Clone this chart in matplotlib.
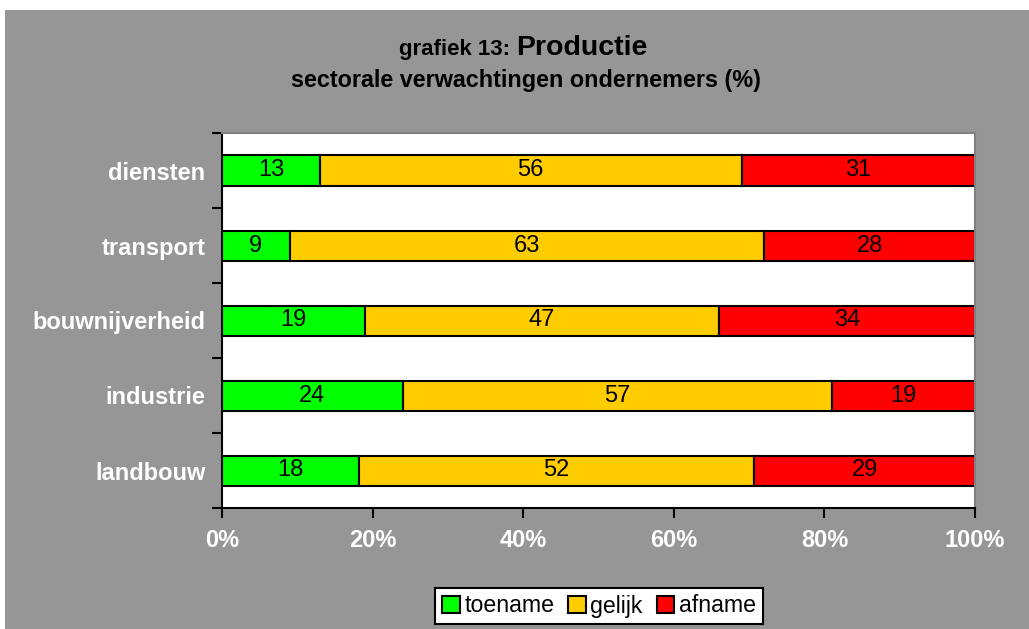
import matplotlib.pyplot as plt
import matplotlib.patches as mpatches
import numpy as np

# =========================
# DATA
# =========================
sectors = ["landbouw", "industrie", "bouwnijverheid", "transport", "diensten"]
toename = [18, 24, 19, 9, 13]
gelijk = [52, 57, 47, 63, 56]
afname = [29, 19, 34, 28, 31]
xtick_labels = ["0%", "20%", "40%", "60%", "80%", "100%"]

series = [("toename", toename, "#00ff00"),
          ("gelijk", gelijk, "#ffcc00"),
          ("afname", afname, "#ff0000")]

plt.rcParams['font.family'] = ['Liberation Sans', 'DejaVu Sans']

W, H = 1029, 629
fig = plt.figure(figsize=(W / 100, H / 100), dpi=100, facecolor="white")

# gray chart background (white strip at top and left)
bg = mpatches.Rectangle((5 / W, 0), 1 - 5 / W, 1 - 10 / H, transform=fig.transFigure,
                        facecolor="#969696", edgecolor="none", zorder=-10)
fig.patches.append(bg)

ax = fig.add_axes([222 / W, 1 - 508 / H, (975 - 222) / W, (508 - 133) / H])
ax.set_facecolor("white")

totals = np.array(toename) + np.array(gelijk) + np.array(afname)
y = np.arange(len(sectors))
left = np.zeros(len(sectors))
handles = []
for name, vals, color in series:
    vals = np.array(vals)
    share = vals / totals * 100
    bars = ax.barh(y, share, left=left, height=0.4, color=color,
                   edgecolor="black", linewidth=1.5, label=name)
    for yi, l, s, v in zip(y, left, share, vals):
        ax.text(l + s / 2, yi, str(v), ha="center", va="center",
                fontsize=17, color="black")
    left += share
    handles.append(bars)

ax.set_xlim(0, 100)
ax.set_ylim(-0.5, len(sectors) - 0.5)

# x axis
ax.set_xticks(np.arange(0, 101, 20))
ax.set_xticklabels(xtick_labels, color="white", fontsize=17, fontweight="bold")
ax.tick_params(axis="x", direction="out", length=7, width=1.5, pad=8, color="black")

# y axis: tick marks between categories, labels at centers
ax.set_yticks(np.arange(-0.5, len(sectors)), minor=False)
ax.set_yticklabels([])
ax.set_yticks(y, minor=True)
ax.set_yticklabels(sectors, minor=True, color="white", fontsize=17, fontweight="bold")
ax.tick_params(axis="y", which="major", direction="out", length=7, width=1.5, color="black")
ax.tick_params(axis="y", which="minor", length=0, pad=12)

for side in ["left", "bottom"]:
    ax.spines[side].set_color("black")
    ax.spines[side].set_linewidth(1.5)
for side in ["top", "right"]:
    ax.spines[side].set_color("#808080")
    ax.spines[side].set_linewidth(1.5)

# =========================
# TITLE
# =========================
split_x = 516 / W
title_y = 1 - 55 / H
fig.text(split_x, title_y, "grafiek 13: ", ha="right", va="baseline",
         fontsize=16, fontweight="bold")
fig.text(split_x, title_y, "Productie", ha="left", va="baseline",
         fontsize=20.5, fontweight="bold")
fig.text(526 / W, 1 - 80 / H, "sectorale verwachtingen ondernemers (%)",
         ha="center", va="center", fontsize=16.8, fontweight="bold")

# =========================
# LEGEND
# =========================
leg = fig.legend(handles=handles, loc="center", bbox_to_anchor=(599 / W, 1 - 606 / H),
                 ncol=3, fontsize=16.7, frameon=True, fancybox=False,
                 handlelength=0.75, handleheight=0.75, handletextpad=0.2,
                 columnspacing=0.6, borderpad=0.3)
leg.get_frame().set_edgecolor("black")
leg.get_frame().set_linewidth(1.5)
leg.get_frame().set_facecolor("white")
leg.get_frame().set_alpha(1)

fig.savefig("out.png", dpi=100, facecolor=fig.get_facecolor())
